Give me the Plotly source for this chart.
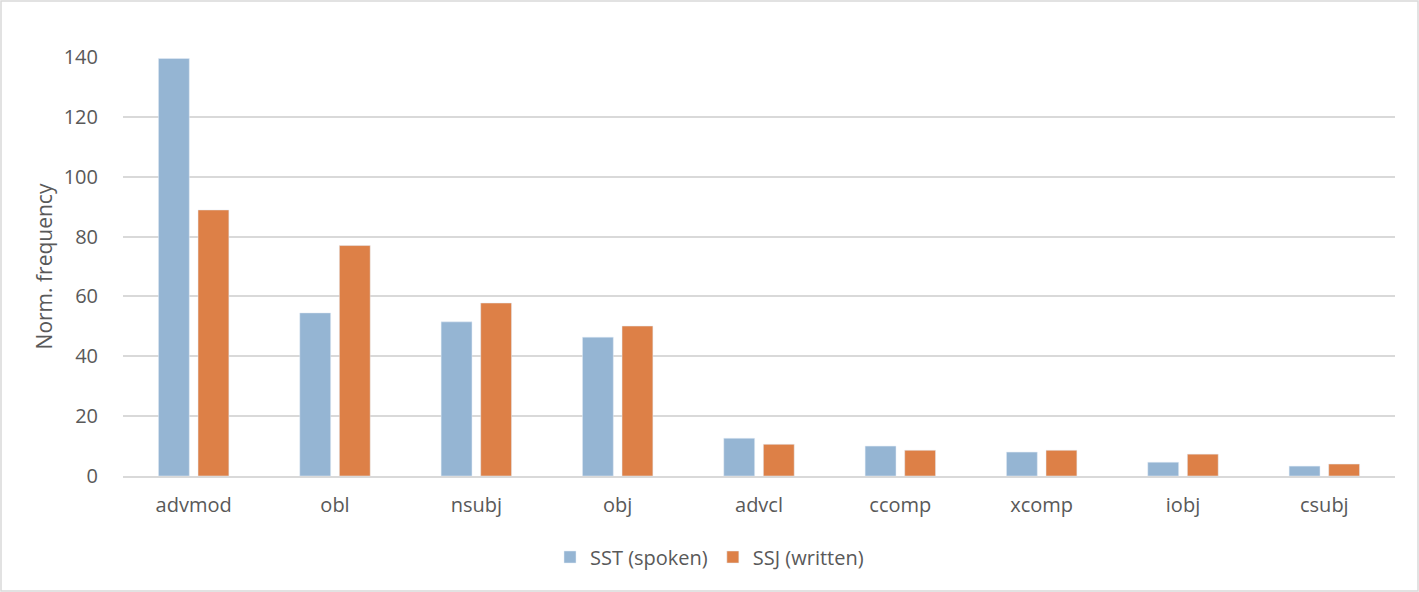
import plotly.graph_objects as go

# Data
categories = ["advmod", "obl", "nsubj", "obj", "advcl", "ccomp", "xcomp", "iobj", "csubj"]
sst_spoken = [139.5, 54.5, 51.5, 46.4, 12.6, 10.0, 8.0, 4.6, 3.3]
ssj_written = [88.9, 77.0, 57.8, 50.1, 10.6, 8.6, 8.6, 7.3, 4.0]

W, H = 1419, 592
L, R, T, B = 123, 24, 57, 116
PW, PH = W - L - R, H - T - B

FONT = "Open Sans"
GREY = "#595959"

fig = go.Figure()
fig.add_trace(go.Bar(x=categories, y=sst_spoken, name="SST (spoken)",
                     marker_color="#95b5d3"))
fig.add_trace(go.Bar(x=categories, y=ssj_written, name="SSJ (written)",
                     marker_color="#dd8047"))

fig.update_layout(
    width=W, height=H,
    margin=dict(l=L, r=R, t=T, b=B),
    barmode="group",
    bargap=0.44,
    bargroupgap=0.22,
    plot_bgcolor="white",
    paper_bgcolor="white",
    font=dict(family=FONT, size=20, color=GREY),
    # legend is centred on the whole chart, not the plot area
    legend=dict(orientation="h", x=(W / 2 - L) / PW, xanchor="center",
                y=(T + PH - 557) / PH, yanchor="middle",
                font=dict(size=20, color=GREY), itemwidth=30),
    xaxis=dict(showgrid=False, showline=True, linecolor="#d9d9d9", linewidth=1.5,
               ticks="outside", ticklen=10, tickcolor="rgba(0,0,0,0)"),
    yaxis=dict(range=[0, 140], dtick=20, showgrid=True, gridcolor="#d9d9d9",
               gridwidth=1.5, zeroline=False,
               ticks="outside", ticklen=20, tickcolor="rgba(0,0,0,0)",
               title=dict(text="Norm. frequency", font=dict(size=21, color=GREY),
                          standoff=5)),
    shapes=[dict(type="rect", xref="paper", yref="paper",
                 x0=(1 - L) / PW, x1=(W - 1 - L) / PW,
                 y0=(T + PH - (H - 1)) / PH, y1=(T + PH - 1) / PH,
                 line=dict(color="#d9d9d9", width=1.5), layer="below")],
)

fig.write_html("out.html", config={"displayModeBar": False},
               post_script="document.body.style.margin='0';")
